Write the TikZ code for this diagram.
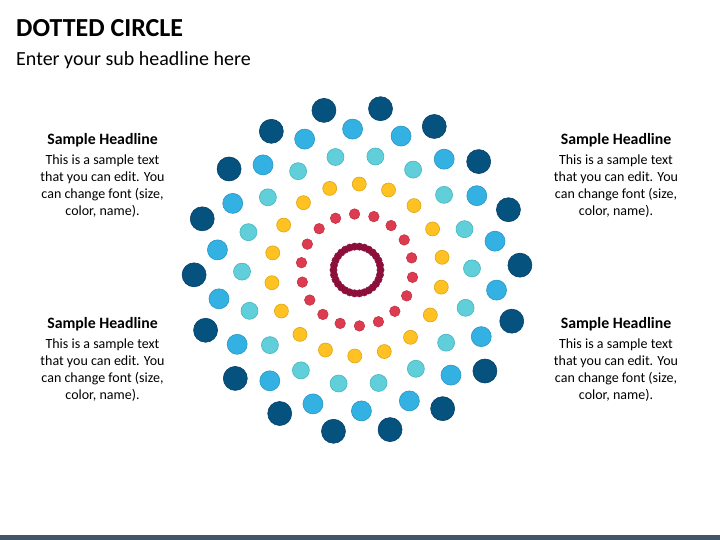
\documentclass[tikz,border=0pt]{standalone}
\usepackage{fontspec}
\setmainfont{Carlito}
\usepackage{tikz}
\usetikzlibrary{positioning}

\definecolor{navydot}{HTML}{06527F}
\definecolor{navyline}{HTML}{04416A}
\definecolor{skydot}{HTML}{33B1E3}
\definecolor{skyline}{HTML}{2896C4}
\definecolor{tealdot}{HTML}{60CFD9}
\definecolor{tealline}{HTML}{45B6C0}
\definecolor{golddot}{HTML}{FFC222}
\definecolor{goldline}{HTML}{DEA513}
\definecolor{reddot}{HTML}{DD3B50}
\definecolor{redline}{HTML}{BE2C40}
\definecolor{winedot}{HTML}{8C0F3B}
\definecolor{barcolor}{HTML}{44546A}

\tikzset{
  headline/.style={font=\fontsize{15.8}{18}\selectfont\bfseries, inner sep=0pt, anchor=base},
  bodytext/.style={font=\fontsize{14}{17}\selectfont, align=center, inner sep=0pt, anchor=north}
}

\begin{document}
\begin{tikzpicture}[x=1pt,y=1pt]
\useasboundingbox (0,0) rectangle (720,540);

% title
\node [font=\fontsize{26}{30}\selectfont\bfseries, anchor=base west, inner sep=0pt] (title) at (16,503) {DOTTED CIRCLE};
\node [font=\fontsize{20}{24}\selectfont, anchor=base west, inner sep=0pt] (subtitle) at (16,474) {Enter your sub headline here};

% rings of dots
\begin{scope}[shift={(357,270)}]
\foreach \a in {0,20,...,340}
  \draw [fill=navydot, draw=navyline, line width=0.6pt] (\a+1.7:163) circle [radius=12];
\foreach \a in {0,20,...,340}
  \draw [fill=skydot, draw=skyline, line width=0.6pt] (\a+11.8:141) circle [radius=10];
\foreach \a in {0,20,...,340}
  \draw [fill=tealdot, draw=tealline, line width=0.6pt] (\a+0.8:115) circle [radius=8.5];
\foreach \a in {0,20,...,340}
  \draw [fill=golddot, draw=goldline, line width=0.6pt] (\a+8.5:86) circle [radius=7];
\foreach \a in {0,20,...,340}
  \draw [fill=reddot, draw=redline, line width=0.5pt] (\a+12.5:56) circle [radius=5.3];
\foreach \a in {0,12,...,348}
  \draw [fill=winedot, draw=winedot] (\a:23.5) circle [radius=3.7];
\end{scope}

% text blocks
\node [headline] (hl1) at (102.5,395) {Sample Headline};
\node [bodytext] (bd1) at (102.5,385) {This is a sample text\\that you can edit. You\\can change font (size,\\color, name).};
\node [headline] (hl2) at (616,395) {Sample Headline};
\node [bodytext] (bd2) at (616,385) {This is a sample text\\that you can edit. You\\can change font (size,\\color, name).};
\node [headline] (hl3) at (102.5,211) {Sample Headline};
\node [bodytext] (bd3) at (102.5,201) {This is a sample text\\that you can edit. You\\can change font (size,\\color, name).};
\node [headline] (hl4) at (616,211) {Sample Headline};
\node [bodytext] (bd4) at (616,201) {This is a sample text\\that you can edit. You\\can change font (size,\\color, name).};

% bottom bar
\fill [barcolor] (0,0) rectangle (720,5);
\end{tikzpicture}
\end{document}
